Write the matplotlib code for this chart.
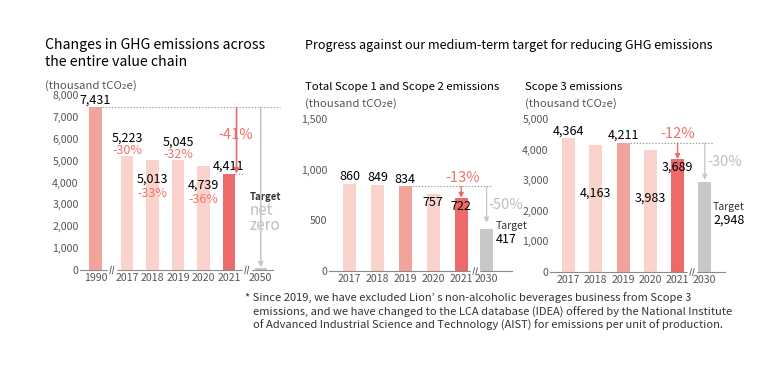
import matplotlib
matplotlib.use('Agg')
import matplotlib.pyplot as plt

plt.rcParams['font.family'] = ['Noto Sans CJK JP', 'DejaVu Sans']

# ---- data ----
chain_years = ['1990', '2017', '2018', '2019', '2020', '2021', '2050']
chain_values = [7431, 5223, 5013, 5045, 4739, 4411]

mid_years = ['2017', '2018', '2019', '2020', '2021', '2030']
scope12_values = [860, 849, 834, 757, 722, 417]
scope3_values = [4364, 4163, 4211, 3983, 3689, 2948]

footnote = [
    '* Since 2019, we have excluded Lion\u2019 s non-alcoholic beverages business from Scope 3',
    'emissions, and we have changed to the LCA database (IDEA) offered by the National Institute',
    'of Advanced Industrial Science and Technology (AIST) for emissions per unit of production.',
]

# ---- style ----
LIGHT = '#FAD4CC'
BASE = '#F2A39A'
RED = '#EC6A6A'
GRAY = '#C8C8C8'
RED_TXT = '#F0726A'
GRAY_TXT = '#BEBEBE'
TICK = '#555555'
DOT = '#9A9A9A'
TICK_FS = 7.6
VAL_FS = 9

W, H = 784, 369
fig = plt.figure(figsize=(W / 100, H / 100), dpi=100)


def px_axes(x0, x1, ytop, ybot):
    return fig.add_axes([x0 / W, 1 - ybot / H, (x1 - x0) / W, (ybot - ytop) / H])


def ftext(x, y, s, **kw):
    kw.setdefault('va', 'center')
    kw.setdefault('ha', 'left')
    fig.text(x / W, 1 - y / H, s, **kw)


def style_axes(ax, xpos, labels, xlim, ymax, ystep):
    ax.set_xlim(*xlim)
    ax.set_ylim(0, ymax)
    for s in ('top', 'right', 'left'):
        ax.spines[s].set_visible(False)
    ax.spines['bottom'].set_color('#8a8a8a')
    ax.spines['bottom'].set_linewidth(0.8)
    ax.set_xticks(xpos)
    ax.set_xticklabels(labels)
    yt = list(range(0, ymax + 1, ystep))
    ax.set_yticks(yt)
    ax.set_yticklabels([f'{v:,}' for v in yt])
    ax.tick_params(axis='x', length=0, pad=2, labelsize=TICK_FS, labelcolor=TICK)
    ax.tick_params(axis='y', length=0, pad=1, labelsize=TICK_FS, labelcolor=TICK)
    ax.patch.set_alpha(0)


def axis_break(ax, xb):
    tr = ax.get_xaxis_transform()
    ax.plot([xb - 0.12, xb + 0.12], [0, 0], color='white', lw=2.5,
            transform=tr, clip_on=False, zorder=5)
    for dx in (-0.05, 0.05):
        ax.plot([xb + dx - 0.03, xb + dx + 0.03], [-0.022, 0.022], color=TICK,
                lw=0.6, transform=tr, clip_on=False, zorder=6)


def arrow(ax, x, y0, y1, color, lw=1.1):
    ax.annotate('', xy=(x, y1), xytext=(x, y0),
                arrowprops=dict(arrowstyle='-|>', color=color, lw=lw,
                                mutation_scale=7, shrinkA=0, shrinkB=0),
                zorder=4)


def dotted(ax, x0, x1, y):
    ax.plot([x0, x1], [y, y], color=DOT, lw=0.8, ls=(0, (1.2, 1.6)),
            clip_on=False, zorder=3)


def pct(a, b):
    return f'{round((a / b - 1) * 100):d}%'


# ---------------- chart 1 : value chain ----------------
ax1 = px_axes(80, 273, 95, 270)
pos1 = [-0.235, 1, 2, 3, 4, 5, 6.25]
bw1 = 0.5
style_axes(ax1, pos1, chain_years, (-0.84, 6.73), 8000, 1000)
colors1 = [BASE, LIGHT, LIGHT, LIGHT, LIGHT, RED]
ax1.bar(pos1[:6], chain_values, width=bw1, color=colors1, zorder=2)

base = chain_values[0]
ax1.text(pos1[0], base + 40, f'{base:,}', ha='center', va='bottom', fontsize=VAL_FS)
inside1 = [False, True, False, True]
for x, v, inside in zip(pos1[1:5], chain_values[1:5], inside1):
    if inside:
        ax1.text(x, v - 860, f'{v:,}', ha='center', va='center', fontsize=VAL_FS)
        ax1.text(x, v - 1500, pct(v, base), ha='center', va='center',
                 fontsize=VAL_FS, color=RED_TXT)
    else:
        ax1.text(x, v + 800, f'{v:,}', ha='center', va='center', fontsize=VAL_FS)
        ax1.text(x, v + 220, pct(v, base), ha='center', va='center',
                 fontsize=VAL_FS, color=RED_TXT)
last = chain_values[5]
ax1.text(pos1[5], last + 60, f'{last:,}', ha='center', va='bottom', fontsize=VAL_FS)

dotted(ax1, pos1[0] + bw1 / 2, 7.0, base)
dotted(ax1, pos1[5] + bw1 / 2, 5.6, last)
arrow(ax1, pos1[5] + 0.3, base, last, RED, lw=1.2)
ax1.text(pos1[5] + 0.27, 6150, pct(last, base), ha='center', va='center',
         fontsize=10.5, color=RED_TXT)
arrow(ax1, pos1[6], base, 120, GRAY, lw=1.2)
ax1.plot([pos1[6] - 0.2, pos1[6] + 0.2], [40, 40], color=GRAY, lw=1.5, zorder=3)
ax1.text(5.82, 3330, 'Target', ha='left', va='center', fontsize=7,
         fontweight='bold', color='#333333')
ax1.text(5.82, 2720, 'net', ha='left', va='center', fontsize=11, color=GRAY_TXT)
ax1.text(5.82, 2020, 'zero', ha='left', va='center', fontsize=11, color=GRAY_TXT)
axis_break(ax1, 0.41)
axis_break(ax1, 5.7)

# ---------------- chart 2 : scope 1+2 ----------------
ax2 = px_axes(329, 512, 119, 271)
pos2 = [0, 1, 2, 3, 4, 4.91]
bw2 = 0.47
style_axes(ax2, pos2, mid_years, (-0.735, 5.82), 1500, 500)
colors2 = [LIGHT, LIGHT, BASE, LIGHT, RED, GRAY]
ax2.bar(pos2, scope12_values, width=bw2, color=colors2, zorder=2)
inside2 = [False, False, False, True, True]
for x, v, inside in zip(pos2[:5], scope12_values[:5], inside2):
    if inside:
        ax2.text(x, v - 20, f'{v:,}', ha='center', va='top', fontsize=VAL_FS)
    else:
        ax2.text(x, v + 8, f'{v:,}', ha='center', va='bottom', fontsize=VAL_FS)
b2 = scope12_values[2]
dotted(ax2, pos2[2] + bw2 / 2, 5.1, b2)
arrow(ax2, pos2[4], b2, scope12_values[4], RED, lw=1.0)
ax2.text(pos2[4] + 0.06, b2 + 10, pct(scope12_values[4], b2), ha='center',
         va='bottom', fontsize=10.5, color=RED_TXT)
arrow(ax2, pos2[5], b2, scope12_values[5] + 60, GRAY, lw=1.0)
ax2.text(pos2[5] + 0.05, 650, pct(scope12_values[5], b2), ha='left', va='center',
         fontsize=10.5, color=GRAY_TXT)
ax2.text(5.25, 440, 'Target', ha='left', va='center', fontsize=7.5, color='#333333')
ax2.text(5.25, 310, f'{scope12_values[5]:,}', ha='left', va='center', fontsize=VAL_FS)
axis_break(ax2, 4.5)

# ---------------- chart 3 : scope 3 ----------------
ax3 = px_axes(550, 725, 119, 272)
pos3 = [0, 1, 2, 3, 4, 5]
bw3 = 0.48
style_axes(ax3, pos3, mid_years, (-0.68, 5.74), 5000, 1000)
ax3.bar(pos3, scope3_values, width=bw3, color=colors2, zorder=2)
for x, v, inside in zip(pos3[:5], scope3_values[:5], [False, True, False, True, True]):
    if v == scope3_values[4]:
        ax3.text(x, v - 40, f'{v:,}', ha='center', va='top', fontsize=VAL_FS, zorder=5)
    elif inside:
        ax3.text(x, v - 1570, f'{v:,}', ha='center', va='center', fontsize=VAL_FS)
    else:
        ax3.text(x, v + 40, f'{v:,}', ha='center', va='bottom', fontsize=VAL_FS)
b3 = scope3_values[2]
dotted(ax3, pos3[2] + bw3 / 2, 5.35, b3)
arrow(ax3, pos3[4], b3, scope3_values[4], RED, lw=1.0)
ax3.text(pos3[4], b3 + 60, pct(scope3_values[4], b3), ha='center', va='bottom',
         fontsize=10.5, color=RED_TXT)
arrow(ax3, pos3[5], b3, scope3_values[5] + 60, GRAY, lw=1.0)
ax3.text(pos3[5] + 0.1, 3600, pct(scope3_values[5], b3), ha='left', va='center',
         fontsize=10.5, color=GRAY_TXT)
ax3.text(5.3, 2140, 'Target', ha='left', va='center', fontsize=7.5, color='#333333')
ax3.text(5.3, 1680, f'{scope3_values[5]:,}', ha='left', va='center', fontsize=VAL_FS)
axis_break(ax3, 4.53)

# ---------------- titles & notes ----------------
ftext(45, 45, 'Changes in GHG emissions across', fontsize=10.2)
ftext(45, 62, 'the entire value chain', fontsize=10.2)
ftext(45, 86, '(thousand tCO\u2082e)', fontsize=8.2, color=TICK)
ftext(305, 45, 'Progress against our medium-term target for reducing GHG emissions',
      fontsize=9.1)
ftext(305, 87, 'Total Scope 1 and Scope 2 emissions', fontsize=8.2)
ftext(305, 104, '(thousand tCO\u2082e)', fontsize=8.2, color=TICK)
ftext(525, 87, 'Scope 3 emissions', fontsize=8.2)
ftext(525, 104, '(thousand tCO\u2082e)', fontsize=8.2, color=TICK)

ftext(245, 298, footnote[0], fontsize=8.0, color='#333333')
ftext(253, 312, footnote[1], fontsize=8.0, color='#333333')
ftext(253, 325, footnote[2], fontsize=8.0, color='#333333')

fig.savefig('out.png', dpi=100)
